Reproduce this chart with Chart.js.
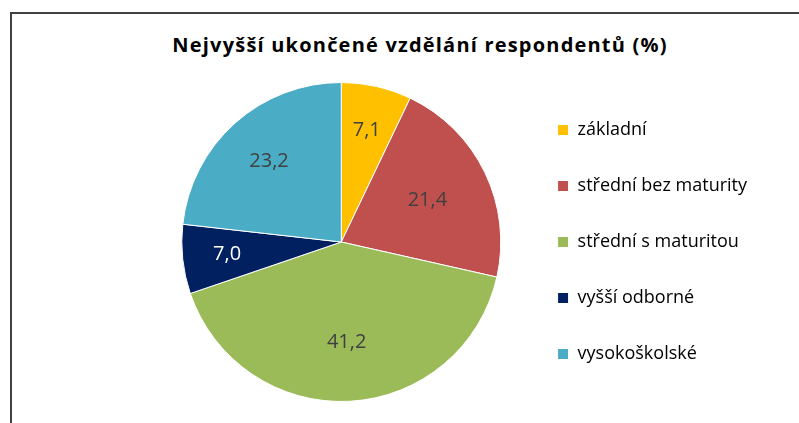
<!DOCTYPE html>
<html lang="cs">
<head>
<meta charset="utf-8">
<title>Nejvyšší ukončené vzdělání respondentů</title>
<script src="https://cdn.jsdelivr.net/npm/chart.js@4/dist/chart.umd.min.js"></script>
<style>
  html, body { margin: 0; padding: 0; background: #fff; overflow: hidden; }
  #frame {
    position: absolute; left: 10px; top: 12px; width: 900px; height: 500px;
    border-left: 2px solid #404040; border-top: 2px solid #404040;
  }
  #title {
    position: absolute; left: 0; top: 31px; width: 840px;
    text-align: center; font: bold 20px "Open Sans", sans-serif; color: #000;
    letter-spacing: 1.2px;
  }
  #wrap { position: absolute; left: 0; top: 0; width: 799px; height: 423px; }
</style>
</head>
<body>
<div id="frame"></div>
<div id="title">Nejvyšší ukončené vzdělání respondentů (%)</div>
<div id="wrap"><canvas id="eduChart"></canvas></div>
<script>
// Data
const labels = ['základní', 'střední bez maturity', 'střední s maturitou', 'vyšší odborné', 'vysokoškolské'];
const shares = [7.1, 21.4, 41.2, 7.0, 23.2];

// Styling
const colors = ['#FFC000', '#C0504D', '#9BBB59', '#002060', '#4BACC6'];
const labelColors = ['#404040', '#404040', '#404040', '#ffffff', '#404040'];
const labelRadius = [0.72, 0.6, 0.63, 0.72, 0.68]; // share of the outer radius

const legendFont = { family: '"Open Sans", sans-serif', size: 18 };
const legendGap = 38;
const legendBox = 11;
const legendLeft = 519;

function fmt(v) {
  return v.toFixed(1).replace('.', ',');
}

// legend box must be wide enough for the longest label (it is clipped)
const measure = document.createElement('canvas').getContext('2d');
measure.font = legendFont.size + 'px ' + legendFont.family;
const widest = Math.max(...labels.map(t => measure.measureText(t).width));
const legendWidth = Math.ceil(legendGap + legendBox + legendFont.size / 2 + widest + 10);

// Values written inside the slices
const sliceLabels = {
  id: 'sliceLabels',
  afterDatasetsDraw(chart) {
    const ctx = chart.ctx;
    const meta = chart.getDatasetMeta(0);
    ctx.save();
    ctx.font = '20px "Open Sans", sans-serif';
    ctx.textAlign = 'center';
    ctx.textBaseline = 'middle';
    meta.data.forEach((arc, i) => {
      const p = arc.getProps(['x', 'y', 'startAngle', 'endAngle', 'outerRadius']);
      const mid = (p.startAngle + p.endAngle) / 2;
      const r = p.outerRadius * labelRadius[i];
      ctx.fillStyle = labelColors[i];
      ctx.fillText(fmt(shares[i]), p.x + Math.cos(mid) * r, p.y + Math.sin(mid) * r);
    });
    ctx.restore();
  }
};

new Chart(document.getElementById('eduChart').getContext('2d'), {
  type: 'pie',
  data: {
    labels: labels,
    datasets: [{
      data: shares,
      backgroundColor: colors,
      borderColor: '#ffffff',
      borderWidth: 1
    }]
  },
  options: {
    responsive: true,
    maintainAspectRatio: false,
    animation: false,
    events: [],
    layout: {
      padding: { top: 82, bottom: 21, left: 163, right: 799 - legendLeft - legendWidth }
    },
    plugins: {
      title: { display: false },
      tooltip: { enabled: false },
      legend: {
        position: 'right',
        maxWidth: legendWidth,
        labels: {
          color: '#000',
          font: legendFont,
          boxWidth: legendBox,
          boxHeight: legendBox,
          padding: legendGap
        }
      }
    }
  },
  plugins: [sliceLabels]
});
</script>
</body>
</html>
